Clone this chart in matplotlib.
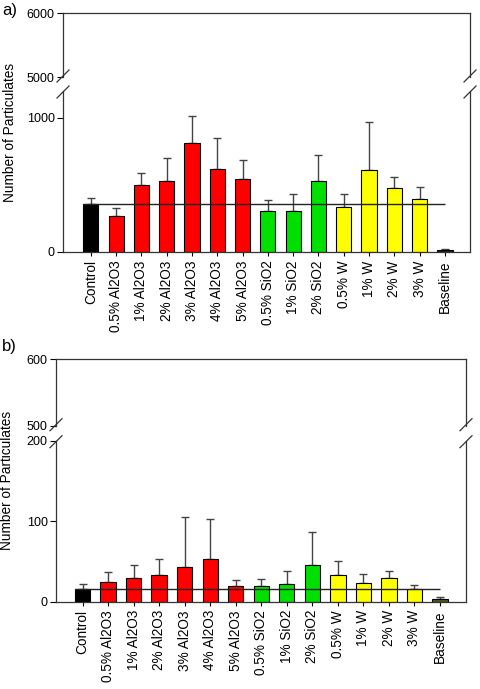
import numpy as np
import matplotlib
matplotlib.use('Agg')
from matplotlib import pyplot as plt
from matplotlib.lines import Line2D

plt.rcParams['font.family'] = ['Liberation Sans', 'DejaVu Sans']

#########################################################
### Data

groups = ['Control', '0.5% Al2O3', '1% Al2O3', '2% Al2O3', '3% Al2O3',
          '4% Al2O3', '5% Al2O3', '0.5% SiO2', '1% SiO2', '2% SiO2',
          '0.5% W', '1% W', '2% W', '3% W', 'Baseline']

# panel a
mean_a = [358, 269, 502, 530, 811, 622, 545, 308, 303, 527, 336, 612, 475, 396, 12]
top_a = [405, 328, 590, 697, 1012, 846, 687, 390, 433, 724, 430, 970, 557, 487, 20]

# panel b
mean_b = [15.5, 24.5, 30, 33.5, 42.5, 52.6, 19.6, 19.6, 21.7, 46, 33.5, 23.7, 29, 16.3, 3]
top_b = [22, 37, 45, 53, 105, 103, 26.5, 27.8, 37.6, 86.5, 50, 34, 38.4, 20.4, 6]

bar_cols_a = ['black'] + ['#ff0000'] * 6 + ['#00e000'] * 3 + ['#ffff00'] * 4 + ['#222222']
bar_cols_b = ['black'] + ['#ff0000'] * 6 + ['#00e000'] * 3 + ['#ffff00'] * 4 + ['#4b5a1c']

W, H = 480, 689
fig = plt.figure(figsize=(W / 100, H / 100), dpi=100)


def fx(px):
    return px / W


def fy(py):
    return 1 - py / H


def broken_panel(left, right, up_top, up_bot, lo_top, lo_bot,
                 up_lim, lo_lim, up_ticks, lo_ticks, means, tops, cols, xlim):
    ax_u = fig.add_axes([fx(left), fy(up_bot), fx(right - left), fy(up_top) - fy(up_bot)])
    ax_l = fig.add_axes([fx(left), fy(lo_bot), fx(right - left), fy(lo_top) - fy(lo_bot)])

    x = np.arange(len(groups))
    means = np.array(means, dtype=float)
    errs = np.array(tops, dtype=float) - means

    ax_l.bar(x, means, width=0.6, color=cols, edgecolor='black', linewidth=0.8, zorder=2)
    ax_l.errorbar(x, means, yerr=[np.zeros_like(errs), errs], fmt='none',
                  ecolor='#444444', elinewidth=1.0, capsize=3, capthick=1.0, zorder=1)
    ax_l.hlines(means[0], -0.3, len(groups) - 1, color='#222222', linewidth=1.0, zorder=3)

    for ax in (ax_u, ax_l):
        ax.set_xlim(*xlim)
        ax.tick_params(axis='y', direction='out', length=4, width=0.8, labelsize=9, pad=2)
        for s in ax.spines.values():
            s.set_color('#333333')
            s.set_linewidth(0.9)

    ax_u.set_ylim(*up_lim)
    ax_u.set_yticks(up_ticks)
    ax_u.spines['bottom'].set_visible(False)
    ax_u.set_xticks([])

    ax_l.set_ylim(*lo_lim)
    ax_l.set_yticks(lo_ticks)
    ax_l.spines['top'].set_visible(False)
    ax_l.set_xticks(x)
    ax_l.set_xticklabels(groups, rotation=90, fontsize=9.8)
    ax_l.tick_params(axis='x', direction='out', length=3, width=0.8, pad=3)

    # break marks
    d = 6
    for sx in (left, right):
        for sy in (up_bot - 1, lo_top + 1):
            fig.add_artist(Line2D([fx(sx - d), fx(sx + d)], [fy(sy + d), fy(sy - d)],
                                  color='#333333', linewidth=0.9))
    return ax_u, ax_l


broken_panel(63, 470, 13, 77, 91, 252, (5000, 6000), (0, 1200),
             [5000, 6000], [0, 1000], mean_a, top_a, bar_cols_a, (-1.1, 14.99))
broken_panel(56, 466, 359, 425.7, 440.7, 601.7, (500, 600), (0, 200),
             [500, 600], [0, 100, 200], mean_b, top_b, bar_cols_b, (-1.04, 15.02))

fig.text(fx(10), fy(132), 'Number of Particulates', rotation=90, fontsize=9.8,
         ha='center', va='center')
fig.text(fx(7), fy(480), 'Number of Particulates', rotation=90, fontsize=9.8,
         ha='center', va='center')
fig.text(fx(2), fy(10), 'a)', fontsize=12, ha='left', va='center')
fig.text(fx(2), fy(347), 'b)', fontsize=12, ha='left', va='center')

fig.savefig('out.png', dpi=100)
